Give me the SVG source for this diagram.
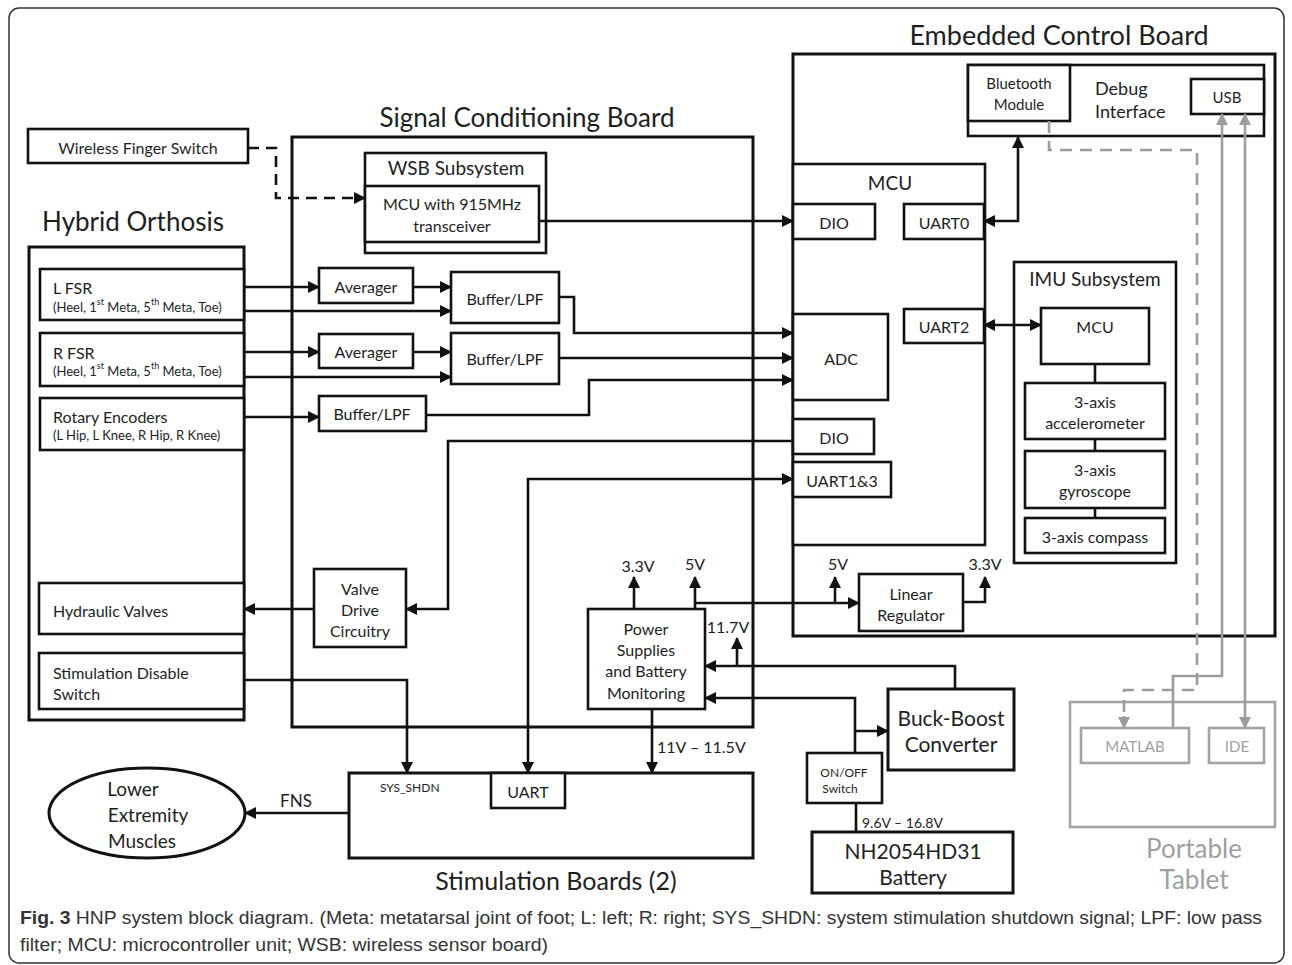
<svg xmlns="http://www.w3.org/2000/svg" width="1292" height="965" viewBox="0 0 1292 965">
<defs>
  <marker id="arr" viewBox="0 0 12 12" refX="11" refY="6" markerWidth="12" markerHeight="12" markerUnits="userSpaceOnUse" orient="auto-start-reverse">
    <path d="M0,0 L12,6 L0,12 z" fill="#111"/>
  </marker>
  <marker id="arrG" viewBox="0 0 12 12" refX="11" refY="6" markerWidth="12" markerHeight="12" markerUnits="userSpaceOnUse" orient="auto-start-reverse">
    <path d="M0,0 L12,6 L0,12 z" fill="#9c9c9c"/>
  </marker>
</defs>
<style>
  text{font-family:Lato,"Open Sans","Liberation Sans",sans-serif;fill:#1e1e1e}
  .t{text-anchor:middle;dominant-baseline:central}
  .l{text-anchor:start;dominant-baseline:central}
  .board{fill:none;stroke:#111;stroke-width:3}
  .box{fill:#fff;stroke:#111;stroke-width:2.6}
  .c{fill:none;stroke:#111;stroke-width:2.6}
  .a{marker-end:url(#arr)}
  .aa{marker-start:url(#arr);marker-end:url(#arr)}
  .dash{stroke-dasharray:11 7}
  .gbox{fill:#fff;stroke:#a3a3a3;stroke-width:2.6}
  .gc{fill:none;stroke:#9c9c9c;stroke-width:2.6}
  .gt{fill:#9f9f9f}
  .title{font-size:26px}
  .s16{font-size:16px}
  .s15{font-size:15px}
  .s13{font-size:13px}
  .s12{font-size:12px}
  .s19{font-size:19px}
  .s21{font-size:21px}
  .cap{font-family:"Liberation Sans Narrow","Liberation Sans",sans-serif;font-size:18px;fill:#333}
</style>

<!-- outer frame of the figure -->
<rect x="9" y="8" width="1275" height="955" rx="10" fill="none" stroke="#333" stroke-width="1.5"/>

<!-- board titles -->
<text class="t title" x="1059" y="34" style="font-size:27px">Embedded Control Board</text>
<text class="t title" x="527" y="117">Signal Conditioning Board</text>
<text class="t title" x="133" y="221">Hybrid Orthosis</text>
<text class="t" x="556" y="880" style="font-size:25px">Stimulation Boards (2)</text>

<!-- board outlines -->
<g id="signal-conditioning-board"><rect class="board" x="292" y="137" width="461" height="590"/></g>
<g id="embedded-control-board"><rect class="board" x="793" y="54" width="482" height="582"/></g>
<g id="hybrid-orthosis"><rect class="board" x="29" y="247" width="215" height="473"/></g>

<!-- external inputs -->
<g id="wireless-finger-switch">
  <rect class="box" x="28" y="129" width="220" height="34"/>
  <text class="t s16" x="138" y="147">Wireless Finger Switch</text>
</g>

<!-- orthosis sensors and actuators -->
<g id="l-fsr">
  <rect class="box" x="40" y="269" width="204" height="51"/>
  <text class="l s16" x="53" y="287">L FSR</text>
  <text class="l s13" x="53" y="307">(Heel, 1<tspan baseline-shift="super" font-size="9">st</tspan> Meta, 5<tspan baseline-shift="super" font-size="9">th</tspan> Meta, Toe)</text>
</g>
<g id="r-fsr">
  <rect class="box" x="40" y="333" width="204" height="53"/>
  <text class="l s16" x="53" y="352">R FSR</text>
  <text class="l s13" x="53" y="371">(Heel, 1<tspan baseline-shift="super" font-size="9">st</tspan> Meta, 5<tspan baseline-shift="super" font-size="9">th</tspan> Meta, Toe)</text>
</g>
<g id="rotary-encoders">
  <rect class="box" x="40" y="398" width="204" height="52"/>
  <text class="l s16" x="53" y="416">Rotary Encoders</text>
  <text class="l s13" x="53" y="435">(L Hip, L Knee, R Hip, R Knee)</text>
</g>
<g id="hydraulic-valves">
  <rect class="box" x="39" y="583" width="205" height="51"/>
  <text class="l s16" x="53" y="610">Hydraulic Valves</text>
</g>
<g id="stimulation-disable-switch">
  <rect class="box" x="39" y="653" width="205" height="56"/>
  <text class="l s16" x="53" y="672">Stimulation Disable</text>
  <text class="l s16" x="53" y="693">Switch</text>
</g>

<!-- signal conditioning blocks -->
<g id="wsb-subsystem">
  <rect class="box" x="365" y="153" width="181" height="100"/>
  <text class="t s19" x="456" y="167">WSB Subsystem</text>
  <rect class="box" x="365" y="186" width="174" height="56"/>
  <text class="t s16" x="452" y="203">MCU with 915MHz</text>
  <text class="t s16" x="452" y="225">transceiver</text>
</g>
<g id="averager-l">
  <rect class="box" x="319" y="268" width="94" height="35"/>
  <text class="t s16" x="366" y="286">Averager</text>
</g>
<g id="averager-r">
  <rect class="box" x="319" y="334" width="94" height="34"/>
  <text class="t s16" x="366" y="351">Averager</text>
</g>
<g id="buffer-lpf-l">
  <rect class="box" x="451" y="272" width="108" height="51"/>
  <text class="t s16" x="505" y="298">Buffer/LPF</text>
</g>
<g id="buffer-lpf-r">
  <rect class="box" x="451" y="333" width="108" height="51"/>
  <text class="t s16" x="505" y="358">Buffer/LPF</text>
</g>
<g id="buffer-lpf-enc">
  <rect class="box" x="319" y="396" width="107" height="35"/>
  <text class="t s16" x="372" y="413">Buffer/LPF</text>
</g>
<g id="valve-drive">
  <rect class="box" x="314" y="569" width="92" height="78"/>
  <text class="t s16" x="360" y="588">Valve</text>
  <text class="t s16" x="360" y="609">Drive</text>
  <text class="t s16" x="360" y="630">Circuitry</text>
</g>
<g id="power-supplies">
  <rect class="box" x="588" y="609" width="117" height="100"/>
  <text class="t s16" x="646" y="628">Power</text>
  <text class="t s16" x="646" y="649">Supplies</text>
  <text class="t s16" x="646" y="670">and Battery</text>
  <text class="t s16" x="646" y="692">Monitoring</text>
</g>

<!-- embedded control board blocks -->
<g id="debug-interface">
  <rect class="box" x="968" y="65" width="296" height="71"/>
  <text class="l" x="1095" y="88" style="font-size:18px">Debug</text>
  <text class="l" x="1095" y="111" style="font-size:18px">Interface</text>
</g>
<g id="bluetooth-module">
  <rect class="box" x="968" y="65" width="102" height="56"/>
  <text class="t s15" x="1019" y="83">Bluetooth</text>
  <text class="t s15" x="1019" y="104">Module</text>
</g>
<g id="usb">
  <rect class="box" x="1191" y="79" width="73" height="35"/>
  <text class="t s15" x="1227" y="97">USB</text>
</g>
<g id="mcu">
  <rect class="box" x="793" y="164" width="192" height="381"/>
  <text class="t s19" x="890" y="182">MCU</text>
</g>
<g id="dio-in">
  <rect class="box" x="793" y="204" width="82" height="35"/>
  <text class="t s16" x="834" y="222">DIO</text>
</g>
<g id="uart0">
  <rect class="box" x="904" y="204" width="80" height="35"/>
  <text class="t s16" x="944" y="222">UART0</text>
</g>
<g id="adc">
  <rect class="box" x="793" y="314" width="95" height="86"/>
  <text class="t s16" x="841" y="358">ADC</text>
</g>
<g id="uart2">
  <rect class="box" x="904" y="309" width="80" height="34"/>
  <text class="t s16" x="944" y="326">UART2</text>
</g>
<g id="dio-out">
  <rect class="box" x="793" y="419" width="81" height="35"/>
  <text class="t s16" x="834" y="437">DIO</text>
</g>
<g id="uart13">
  <rect class="box" x="793" y="462" width="98" height="35"/>
  <text class="t s16" x="842" y="480">UART1&amp;3</text>
</g>
<g id="imu-subsystem">
  <rect class="box" x="1014" y="262" width="162" height="301"/>
  <text class="t s19" x="1095" y="278">IMU Subsystem</text>
  <rect class="box" x="1041" y="308" width="108" height="56"/>
  <text class="t s16" x="1095" y="326">MCU</text>
  <rect class="box" x="1025" y="383" width="140" height="56"/>
  <text class="t s16" x="1095" y="401">3-axis</text>
  <text class="t s16" x="1095" y="422">accelerometer</text>
  <rect class="box" x="1025" y="451" width="140" height="57"/>
  <text class="t s16" x="1095" y="469">3-axis</text>
  <text class="t s16" x="1095" y="490">gyroscope</text>
  <rect class="box" x="1025" y="518" width="140" height="35"/>
  <text class="t s16" x="1095" y="536">3-axis compass</text>
</g>
<g id="linear-regulator">
  <rect class="box" x="859" y="574" width="104" height="57"/>
  <text class="t s16" x="911" y="593">Linear</text>
  <text class="t s16" x="911" y="614">Regulator</text>
</g>

<!-- power chain -->
<g id="buck-boost">
  <rect class="board" x="888" y="689" width="126" height="81"/>
  <text class="t s21" x="951" y="717">Buck-Boost</text>
  <text class="t s21" x="951" y="743">Converter</text>
</g>
<g id="on-off-switch">
  <rect class="box" x="807" y="753" width="75" height="50"/>
  <text class="t s12" x="844" y="772">ON/OFF</text>
  <text class="t s12" x="840" y="788">Switch</text>
</g>
<g id="battery">
  <rect class="board" x="812" y="832" width="201" height="61"/>
  <text class="t s21" x="913" y="850">NH2054HD31</text>
  <text class="t s21" x="913" y="876">Battery</text>
</g>

<!-- stimulation side -->
<g id="stimulation-boards">
  <rect class="board" x="349" y="773" width="404" height="85"/>
  <text class="l s12" x="380" y="787">SYS_SHDN</text>
  <rect class="box" x="491" y="773" width="74" height="35"/>
  <text class="t s16" x="528" y="791">UART</text>
</g>
<g id="lower-extremity-muscles">
  <ellipse cx="147" cy="813" rx="98" ry="45" fill="#fff" stroke="#111" stroke-width="3"/>
  <text class="t s19" x="133" y="788">Lower</text>
  <text class="t s19" x="148" y="814">Extremity</text>
  <text class="t s19" x="142" y="840">Muscles</text>
</g>

<!-- portable tablet -->
<g id="portable-tablet">
  <rect class="gbox" x="1070" y="702" width="205" height="125" fill="none"/>
  <rect class="gbox" x="1081" y="728" width="108" height="35"/>
  <text class="t s15 gt" x="1135" y="746">MATLAB</text>
  <rect class="gbox" x="1209" y="728" width="55" height="35"/>
  <text class="t s15 gt" x="1237" y="746">IDE</text>
  <text class="t gt" x="1194" y="848" style="font-size:26px">Portable</text>
  <text class="t gt" x="1194" y="879" style="font-size:26px">Tablet</text>
</g>

<!-- connectors -->
<g id="connectors">
  <path class="c a dash" d="M248,148 H276 V198 H365"/>
  <path class="c a" d="M539,221 H793"/>
  <path class="c a" d="M244,287 H319"/>
  <path class="c a" d="M413,287 H451"/>
  <path class="c a" d="M244,311 H451"/>
  <path class="c a" d="M244,352 H319"/>
  <path class="c a" d="M413,352 H451"/>
  <path class="c a" d="M244,377 H451"/>
  <path class="c a" d="M244,417 H319"/>
  <path class="c a" d="M559,297 H574 V333 H793"/>
  <path class="c a" d="M559,358 H793"/>
  <path class="c a" d="M426,415 H589 V380 H793"/>
  <path class="c a" d="M793,441 H448 V609 H406"/>
  <path class="c a" d="M314,609 H244"/>
  <path class="c a" d="M244,680 H407 V773"/>
  <path class="c aa" d="M793,479 H528 V773"/>
  <path class="c aa" d="M984,221 H1018 V137"/>
  <path class="c aa" d="M984,325 H1041"/>
  <path class="c" d="M1095,364 V383 M1095,439 V451 M1095,508 V518"/>
  <path class="c a" d="M634,609 V577"/>
  <path class="c a" d="M695,609 V577"/>
  <path class="c a" d="M695,603 H859"/>
  <path class="c a" d="M835,603 V577"/>
  <path class="c a" d="M963,602 H985 V577"/>
  <path class="c a" d="M955,689 V666 H705"/>
  <path class="c a" d="M737,666 V638"/>
  <path class="c a" d="M855,753 V698 H705"/>
  <path class="c a" d="M855,731 H888"/>
  <path class="c" d="M856,803 V832"/>
  <path class="c a" d="M652,709 V773"/>
  <path class="c a" d="M349,813 H245"/>
  <path class="gc dash" d="M1049,121 V150 H1197 V690 H1124 V716" style="stroke-dasharray:12 8"/>
  <path class="gc" d="M1124,716 V728" marker-end="url(#arrG)"/>
  <path class="gc" d="M1173,728 V676 H1222 V114" marker-end="url(#arrG)"/>
  <path class="gc" d="M1245,114 V728" marker-start="url(#arrG)" marker-end="url(#arrG)"/>
</g>

<!-- connector labels -->
<g id="labels">
  <text class="t s16" x="638" y="565">3.3V</text>
  <text class="t s16" x="695" y="563">5V</text>
  <text class="t s16" x="838" y="563">5V</text>
  <text class="t s16" x="985" y="563">3.3V</text>
  <text class="t s16" x="728" y="626">11.7V</text>
  <text class="l s16" x="657" y="746">11V – 11.5V</text>
  <text class="l" x="862" y="822" style="font-size:14px">9.6V – 16.8V</text>
  <text class="t" x="296" y="800" style="font-size:17px">FNS</text>
</g>

<!-- caption -->
<text class="cap" x="20" y="924" textLength="1242" lengthAdjust="spacingAndGlyphs"><tspan font-weight="bold">Fig. 3</tspan> HNP system block diagram. (Meta: metatarsal joint of foot; L: left; R: right; SYS_SHDN: system stimulation shutdown signal; LPF: low pass</text>
<text class="cap" x="20" y="951" textLength="528" lengthAdjust="spacingAndGlyphs">filter; MCU: microcontroller unit; WSB: wireless sensor board)</text>
</svg>
